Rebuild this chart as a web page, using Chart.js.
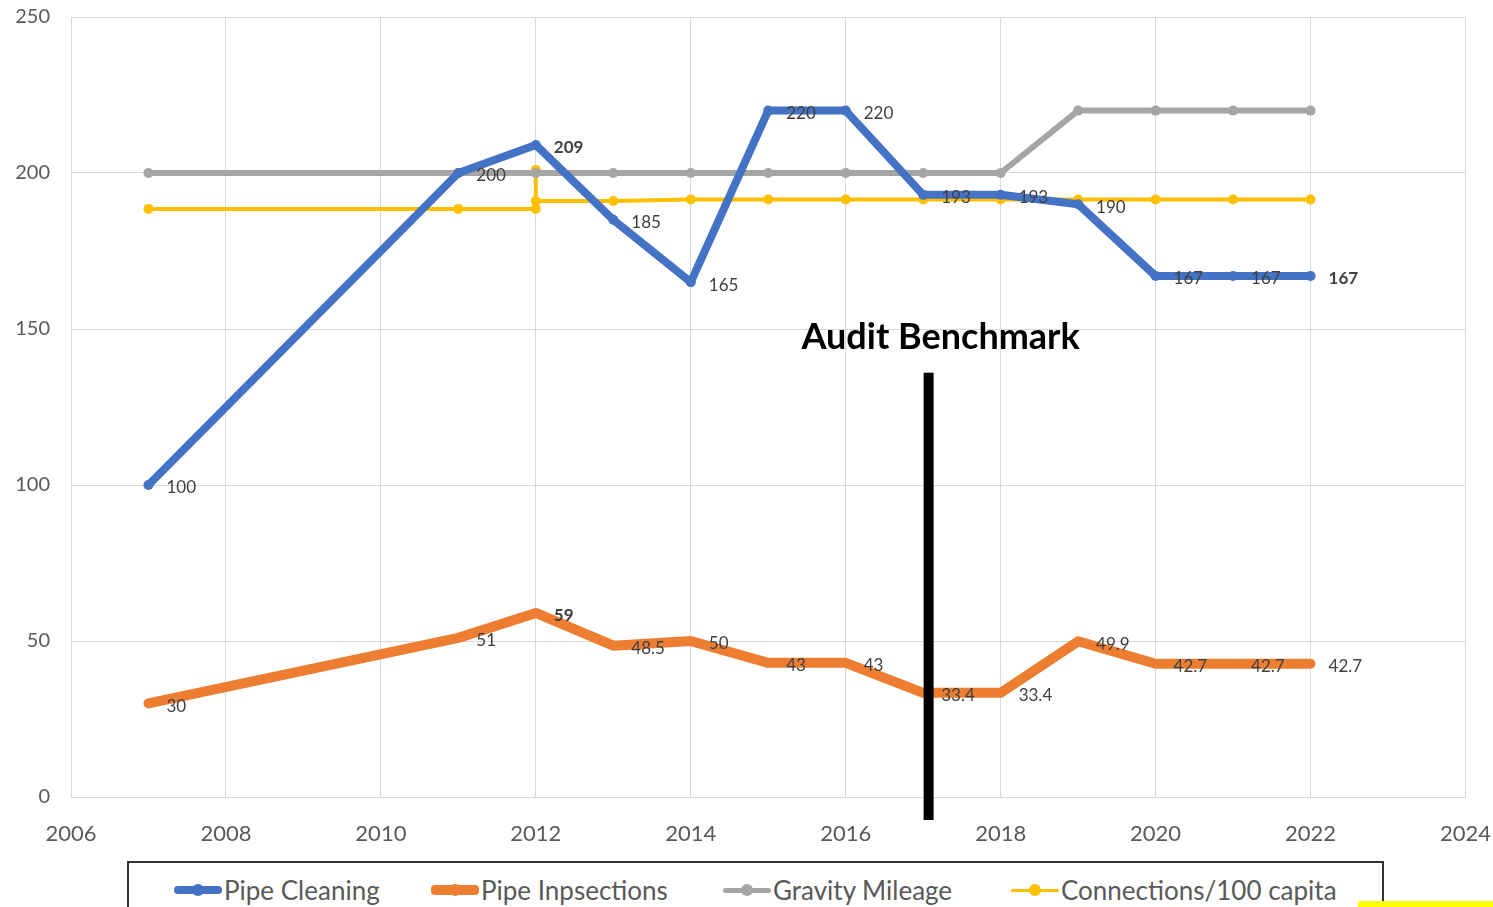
<!DOCTYPE html>
<html>
<head>
<meta charset="utf-8">
<script src="https://cdn.jsdelivr.net/npm/chart.js@4.4.1/dist/chart.umd.min.js"></script>
<style>
  body { margin: 0; background: #fff; }
  #wrap { position: relative; width: 1493px; height: 907px; overflow: hidden; }
  #chart { position: absolute; left: 0; top: -16px; }
  #legend {
    position: absolute; left: 127px; top: 861px; width: 1257px; height: 60px;
    border: 2px solid #333; box-sizing: border-box; background: #fff;
    font-family: Lato, sans-serif; font-size: 26px; color: #595959;
  }
  .item { position: absolute; top: 10px; display: flex; align-items: center; height: 34px; }
  .mark { position: relative; width: 48px; height: 14px; margin-right: 2px; }
  .mark .ln { position: absolute; left: 0; right: 0; top: 50%; border-radius: 4px; }
  .mark .dot { position: absolute; left: 50%; top: 50%; width: 12px; height: 12px; border-radius: 50%; transform: translate(-50%, -50%); }
  #hl { position: absolute; left: 1358px; top: 901px; width: 135px; height: 6px; background: #ffff00; }
</style>
</head>
<body>
<div id="wrap">
  <canvas id="chart" width="1515" height="923"></canvas>
  <div id="legend"></div>
  <div id="hl"></div>
</div>
<script>
const years = [2007, 2011, 2012, 2013, 2014, 2015, 2016, 2017, 2018, 2019, 2020, 2021, 2022];
const pipeCleaning = [100, 200, 209, 185, 165, 220, 220, 193, 193, 190, 167, 167, 167];
const pipeInspections = [30, 51, 59, 48.5, 50, 43, 43, 33.4, 33.4, 49.9, 42.7, 42.7, 42.7];
const gravityMileage = [200, 200, 200, 200, 200, 200, 200, 200, 200, 220, 220, 220, 220];
const connYears = [2007, 2011, 2012, 2012, 2012, 2013, 2014, 2015, 2016, 2017, 2018, 2019, 2020, 2021, 2022];
const connections = [188.5, 188.5, 188.5, 201, 191, 191, 191.5, 191.5, 191.5, 191.5, 191.5, 191.5, 191.5, 191.5, 191.5];
const seriesNames = ['Pipe Cleaning', 'Pipe Inpsections', 'Gravity Mileage', 'Connections/100 capita'];
const seriesColors = ['#4472c4', '#ed7d31', '#a5a5a5', '#ffc000'];
const benchmarkYear = 2017.07;
const benchmarkTop = 136;
const benchmarkText = 'Audit Benchmark';

const pts = (xs, ys) => xs.map((x, i) => ({ x: x, y: ys[i] }));

// value labels right of the points for the two pipe series
const valueLabels = {
    id: 'valueLabels',
    afterDatasetsDraw(chart) {
        const ctx = chart.ctx;
        ctx.save();
        ctx.fillStyle = '#404040';
        ctx.textAlign = 'left';
        ctx.textBaseline = 'middle';
        [0, 1].forEach(di => {
            const meta = chart.getDatasetMeta(di);
            const vals = chart.data.datasets[di].data;
            meta.data.forEach((pt, i) => {
                const bold = (di === 0 && (i === 2 || i === vals.length - 1)) || (di === 1 && i === 2);
                ctx.font = (bold ? 'bold ' : '') + '17px Lato, sans-serif';
                ctx.fillText(String(vals[i].y), pt.x + 18, pt.y + 3);
            });
        });
        ctx.restore();
    }
};

const benchmark = {
    id: 'benchmark',
    afterDraw(chart) {
        const ctx = chart.ctx;
        const x = chart.scales.x.getPixelForValue(benchmarkYear);
        const top = chart.scales.y.getPixelForValue(benchmarkTop);
        const bottom = chart.chartArea.bottom + 23;
        ctx.save();
        ctx.fillStyle = '#000';
        ctx.fillRect(x - 5, top, 10, bottom - top);
        ctx.font = 'bold 36px Lato, sans-serif';
        ctx.textAlign = 'center';
        ctx.textBaseline = 'alphabetic';
        ctx.fillText(benchmarkText, x + 12, top - 24);
        ctx.restore();
    }
};

new Chart(document.getElementById('chart'), {
    type: 'line',
    data: {
        datasets: [
            { label: seriesNames[0], data: pts(years, pipeCleaning), borderColor: seriesColors[0], backgroundColor: seriesColors[0], borderWidth: 8, pointRadius: 5 },
            { label: seriesNames[1], data: pts(years, pipeInspections), borderColor: seriesColors[1], backgroundColor: seriesColors[1], borderWidth: 10, pointRadius: 4 },
            { label: seriesNames[2], data: pts(years, gravityMileage), borderColor: seriesColors[2], backgroundColor: seriesColors[2], borderWidth: 6, pointRadius: 5 },
            { label: seriesNames[3], data: pts(connYears, connections), borderColor: seriesColors[3], backgroundColor: seriesColors[3], borderWidth: 4, pointRadius: 5 }
        ].map(d => Object.assign(d, { borderJoinStyle: 'round', borderCapStyle: 'round', pointBorderWidth: 0, tension: 0 }))
    },
    options: {
        responsive: false,
        animation: false,
        layout: { padding: 0 },
        plugins: { legend: { display: false }, tooltip: { enabled: false } },
        scales: {
            x: {
                type: 'linear', min: 2006, max: 2024,
                grid: { color: '#d9d9d9', drawTicks: false },
                border: { color: '#d9d9d9' },
                ticks: { stepSize: 2, padding: 24, color: '#595959', font: { family: 'Lato', size: 22 }, callback: v => String(v) },
                afterFit: s => { s.height = 110; }
            },
            y: {
                min: 0, max: 250,
                grid: { color: '#d9d9d9', drawTicks: false },
                border: { color: '#d9d9d9' },
                ticks: { stepSize: 50, padding: 21, color: '#595959', font: { family: 'Lato', size: 20 } },
                afterFit: s => { s.width = 71; }
            }
        }
    },
    plugins: [valueLabels, benchmark]
});

// legend below the chart
const legendLeft = [45, 302, 594, 882];
const lineWidths = [8, 10, 5, 3];
const legend = document.getElementById('legend');
seriesNames.forEach((name, i) => {
    const item = document.createElement('div');
    item.className = 'item';
    item.style.left = legendLeft[i] + 'px';
    item.innerHTML = '<span class="mark"><span class="ln" style="height:' + lineWidths[i] + 'px;margin-top:-' + (lineWidths[i] / 2) + 'px;background:' + seriesColors[i] + '"></span><span class="dot" style="background:' + seriesColors[i] + '"></span></span>' + name;
    legend.appendChild(item);
});
</script>
</body>
</html>
